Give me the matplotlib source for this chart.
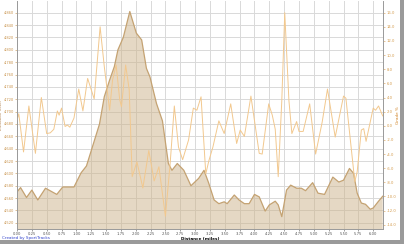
import numpy as np
import matplotlib
matplotlib.use("Agg")
import matplotlib.pyplot as plt
from matplotlib.patches import Rectangle

# elevation profile (feet) vs distance (miles)
elev_dist = [0.00, 0.06, 0.16, 0.25, 0.35, 0.48, 0.67, 0.77, 0.96, 1.08,
             1.17, 1.29, 1.39, 1.47, 1.56, 1.64, 1.70, 1.79, 1.90, 2.01,
             2.10, 2.18, 2.24, 2.35, 2.45, 2.55, 2.61, 2.70, 2.81, 2.93,
             3.06, 3.15, 3.23, 3.32, 3.40, 3.49, 3.54, 3.66, 3.74, 3.83,
             3.91, 4.00, 4.08, 4.18, 4.25, 4.35, 4.40, 4.46, 4.54, 4.61,
             4.71, 4.79, 4.86, 4.98, 5.07, 5.18, 5.32, 5.42, 5.50, 5.60,
             5.67, 5.73, 5.80, 5.87, 5.95, 6.00, 6.09, 6.16]
elev_ft = [4570, 4577, 4561, 4573, 4557, 4576, 4566, 4578, 4578, 4601,
           4612, 4649, 4680, 4724, 4751, 4773, 4800, 4820, 4862, 4827,
           4816, 4770, 4756, 4713, 4685, 4616, 4605, 4616, 4605, 4580,
           4592, 4605, 4584, 4557, 4551, 4554, 4551, 4565, 4557, 4551,
           4551, 4566, 4562, 4539, 4549, 4555, 4549, 4530, 4573, 4581,
           4576, 4576, 4572, 4585, 4568, 4566, 4594, 4586, 4589, 4608,
           4600, 4568, 4552, 4550, 4542, 4544, 4555, 4563]

# grade (%) vs distance (miles)
grade_dist = [0.00, 0.03, 0.11, 0.20, 0.31, 0.41, 0.50, 0.56, 0.62, 0.68,
              0.71, 0.75, 0.81, 0.85, 0.89, 0.96, 1.04, 1.11, 1.19, 1.30,
              1.40, 1.47, 1.56, 1.61, 1.67, 1.73, 1.76, 1.83, 1.89, 1.94,
              2.02, 2.12, 2.22, 2.31, 2.39, 2.50, 2.58, 2.65, 2.72, 2.79,
              2.89, 2.97, 3.03, 3.10, 3.18, 3.23, 3.30, 3.40, 3.49, 3.60,
              3.70, 3.76, 3.83, 3.94, 4.03, 4.08, 4.13, 4.24, 4.30, 4.35,
              4.40, 4.46, 4.51, 4.58, 4.63, 4.71, 4.75, 4.82, 4.93, 5.03,
              5.14, 5.23, 5.36, 5.50, 5.54, 5.69, 5.73, 5.80, 5.84, 5.88,
              6.00, 6.04, 6.09, 6.16]
grade_pct = [0.8, 1.7, -3.7, 2.8, -3.9, 4.0, -1.1, -1.0, -0.5, 2.1,
             1.5, 2.5, -0.1, 0.1, -0.2, 1.1, 5.2, 2.1, 6.7, 3.8,
             14.0, 8.4, 2.2, 6.5, 8.6, 3.7, 2.7, 8.6, 5.1, -7.2,
             -5.1, -8.8, -3.5, -7.8, -5.8, -12.8, -5.3, 2.8, -3.0, -4.8,
             -2.0, 2.5, 2.2, 4.1, -6.8, -5.0, -3.0, 0.7, -1.1, 3.1,
             -2.5, -0.6, -1.5, 4.2, -1.0, -3.9, -4.0, 3.1, 1.5, -0.5,
             -7.2, 3.5, 16.0, 3.6, -1.1, 0.6, -0.8, -0.8, 3.1, -4.0,
             0.5, 5.2, -1.6, 4.2, 3.9, -7.9, -6.5, -0.6, -0.4, -2.2,
             2.5, 2.2, 2.8, 1.4]

x_ticks = np.arange(0, 6.01, 0.25)
elev_ticks = np.arange(4520, 4861, 20)
grade_ticks = np.arange(-14, 16.1, 2)

fig = plt.figure(figsize=(4.04, 2.44), dpi=100)
fig.patch.set_facecolor("white")
# drop shadow around the picture frame
fig.patches.append(Rectangle((400 / 404, 0), 4 / 404, 1, transform=fig.transFigure,
                             facecolor="#9a9a9a", edgecolor="none", zorder=0))
fig.patches.append(Rectangle((0, 0), 1, 4 / 244, transform=fig.transFigure,
                             facecolor="#9a9a9a", edgecolor="none", zorder=0))

ax = fig.add_axes([17 / 404, 1 - 229 / 244, (383.3 - 17) / 404, 228 / 244])
ax.set_axisbelow(True)
ax.grid(True, color="#d9d9d9", linewidth=0.7)
ax.fill_between(elev_dist, elev_ft, 4400, color="#cdb38a", alpha=0.5, linewidth=0)
ax.plot(elev_dist, elev_ft, color="#c4a272", linewidth=0.9)
ax.set_xlim(0, 6.17)
ax.set_ylim(4510, 4879)
ax.set_xticks(x_ticks)
ax.set_xticklabels([f"{v:.2f}" for v in x_ticks])
ax.set_yticks(elev_ticks)
ax.set_yticklabels([f"{v:,}" for v in elev_ticks])
ax.tick_params(axis="x", labelsize=2.7, colors="#555555", length=1.2, width=0.4, pad=0.8)
ax.tick_params(axis="y", labelsize=2.6, colors="#c8924a", length=1.2, width=0.4, pad=1)
ax.set_xlabel("Distance (miles)", fontsize=3, fontweight="bold")
ax.xaxis.set_label_coords(0.5, -0.034)
ax.set_ylabel("Elevation (feet)", fontsize=2.8, color="#a8743a")
ax.yaxis.set_label_coords(-0.039, 0.5)
ax.spines["top"].set_visible(False)
for s in ("left", "bottom", "right"):
    ax.spines[s].set_color("#9a9a9a")
    ax.spines[s].set_linewidth(0.6)

ax2 = ax.twinx()
ax2.plot(grade_dist, grade_pct, color="#f2c88e", linewidth=0.7)
ax2.set_ylim(-14.6, 17.65)
ax2.set_yticks(grade_ticks)
ax2.set_yticklabels([f"{v:.1f}" for v in grade_ticks])
ax2.tick_params(axis="y", labelsize=2.7, colors="#d49a4a", length=1.2, width=0.4, pad=1.2)
ax2.set_ylabel("Grade %", fontsize=3, color="#d08020")
ax2.yaxis.set_label_coords(1.035, 0.5)
ax2.spines["top"].set_visible(False)
for s in ("left", "bottom", "right"):
    ax2.spines[s].set_color("#9a9a9a")
    ax2.spines[s].set_linewidth(0.6)

fig.text(2 / 404, 1 - 238 / 244, "Created by SportTracks", fontsize=3,
         color="#3344cc", va="center", ha="left")

fig.savefig("out.png", dpi=100)
